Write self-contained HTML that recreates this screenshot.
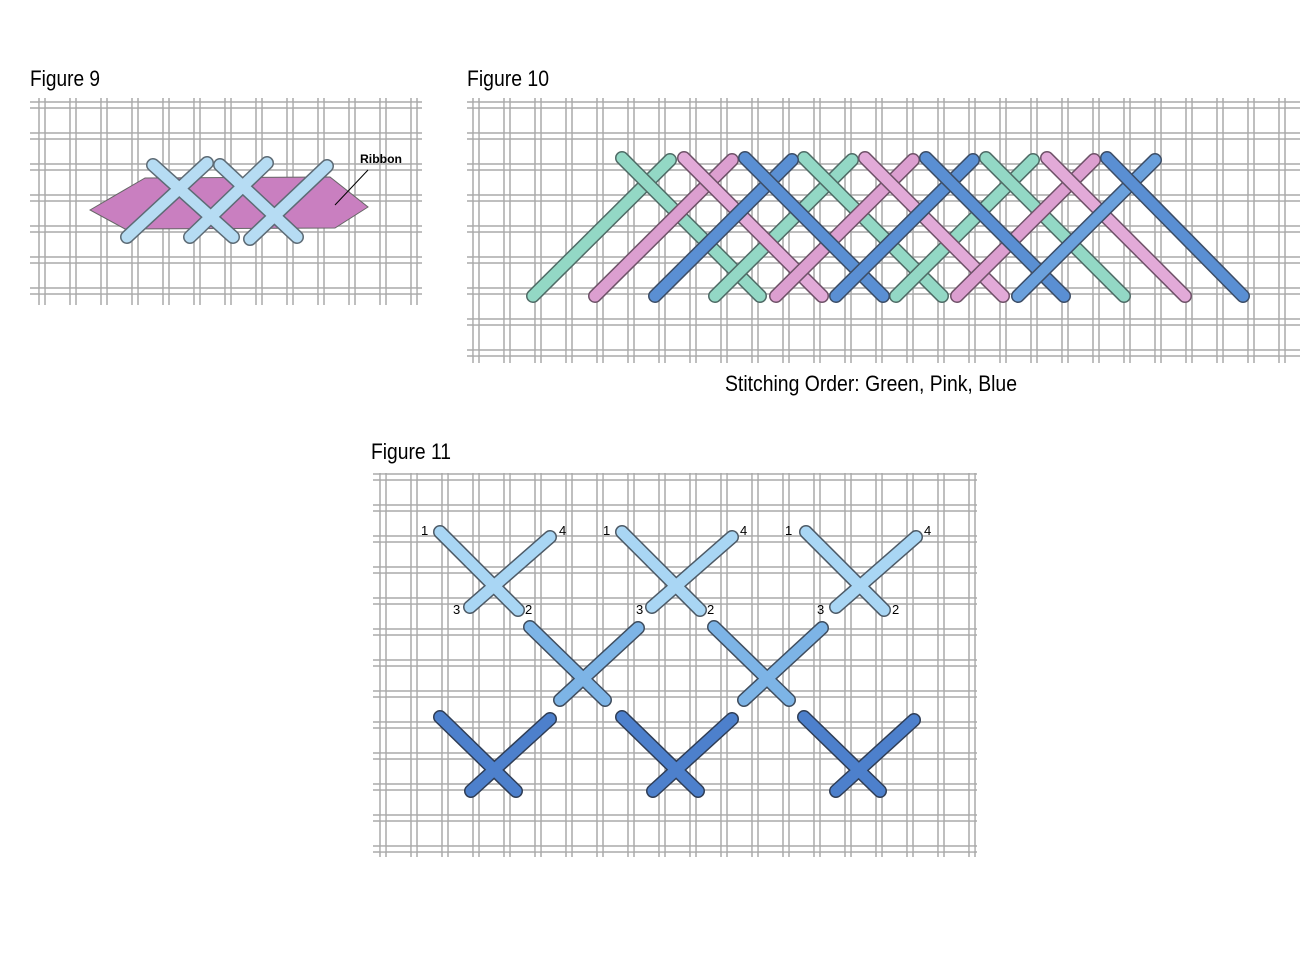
<!DOCTYPE html>
<html><head><meta charset="utf-8"><style>
body{margin:0;background:#fff;width:1300px;height:961px;overflow:hidden}
svg{display:block}
text{font-family:"Liberation Sans Narrow","Liberation Sans",sans-serif}
</style></head><body>
<svg width="1300" height="961" viewBox="0 0 1300 961">
<defs>
<pattern id="g" x="0" y="0" width="31" height="31" patternUnits="userSpaceOnUse">
<rect width="31" height="31" fill="#fff"/>
<g stroke="#aaaaaa" stroke-width="1.5">
<line x1="8" y1="0" x2="8" y2="31"/><line x1="14" y1="0" x2="14" y2="31"/>
<line x1="0" y1="9" x2="31" y2="9"/><line x1="0" y1="15" x2="31" y2="15"/>
</g>
<rect x="8.8" y="9.8" width="4.4" height="4.4" fill="#fff"/>
</pattern>
</defs>
<text x="30" y="86" font-size="22" textLength="70" lengthAdjust="spacingAndGlyphs">Figure 9</text>
<text x="467" y="86" font-size="22" textLength="82" lengthAdjust="spacingAndGlyphs">Figure 10</text>
<text x="371" y="459" font-size="22" textLength="80" lengthAdjust="spacingAndGlyphs">Figure 11</text>
<text x="725" y="391" font-size="22" textLength="292" lengthAdjust="spacingAndGlyphs">Stitching Order: Green, Pink, Blue</text>

<rect x="30" y="98" width="392" height="207" fill="url(#g)"/>
<rect x="467" y="98" width="833" height="265" fill="url(#g)"/>
<rect x="373" y="473" width="604" height="384" fill="url(#g)"/>

<!-- Fig 9 -->
<polygon points="90,210 145,178 330,177 368,207 335,228 125,229" fill="#c97fc0" stroke="#666" stroke-width="1"/>
<g stroke-linecap="round">
<g stroke="#5d6b75" stroke-width="14">
<line x1="153" y1="165" x2="233" y2="237"/><line x1="127" y1="237" x2="207" y2="163"/>
<line x1="220" y1="165" x2="297" y2="237"/><line x1="190" y1="237" x2="267" y2="163"/>
<line x1="250" y1="239" x2="327" y2="166"/>
</g>
<g stroke="#b6dcf3" stroke-width="11">
<line x1="153" y1="165" x2="233" y2="237"/><line x1="127" y1="237" x2="207" y2="163"/>
<line x1="220" y1="165" x2="297" y2="237"/><line x1="190" y1="237" x2="267" y2="163"/>
<line x1="250" y1="239" x2="327" y2="166"/>
</g>
</g>
<text x="360" y="163" font-size="12" font-weight="bold" font-family="Liberation Sans,sans-serif" textLength="42" lengthAdjust="spacingAndGlyphs">Ribbon</text>
<line x1="368" y1="170" x2="335" y2="205" stroke="#000" stroke-width="1"/>

<!-- Fig 10 -->
<g stroke-linecap="round">
<g>
<line x1="533" y1="296" x2="670" y2="160" stroke="#4f6b66" stroke-width="14"/><line x1="533" y1="296" x2="670" y2="160" stroke="#93d8c5" stroke-width="11"/>
<line x1="622" y1="158" x2="760" y2="296" stroke="#4f6b66" stroke-width="14"/><line x1="622" y1="158" x2="760" y2="296" stroke="#93d8c5" stroke-width="11"/>
<line x1="715" y1="296" x2="852" y2="160" stroke="#4f6b66" stroke-width="14"/><line x1="715" y1="296" x2="852" y2="160" stroke="#93d8c5" stroke-width="11"/>
<line x1="804" y1="158" x2="942" y2="296" stroke="#4f6b66" stroke-width="14"/><line x1="804" y1="158" x2="942" y2="296" stroke="#93d8c5" stroke-width="11"/>
<line x1="896" y1="296" x2="1033" y2="160" stroke="#4f6b66" stroke-width="14"/><line x1="896" y1="296" x2="1033" y2="160" stroke="#93d8c5" stroke-width="11"/>
<line x1="986" y1="158" x2="1124" y2="296" stroke="#4f6b66" stroke-width="14"/><line x1="986" y1="158" x2="1124" y2="296" stroke="#93d8c5" stroke-width="11"/>
</g>
<g>
<line x1="595" y1="296" x2="732" y2="160" stroke="#6e5268" stroke-width="14"/><line x1="595" y1="296" x2="732" y2="160" stroke="#dc9fd0" stroke-width="11"/>
<line x1="684" y1="158" x2="822" y2="296" stroke="#6e5268" stroke-width="14"/><line x1="684" y1="158" x2="822" y2="296" stroke="#e2aad8" stroke-width="11"/>
<line x1="776" y1="296" x2="913" y2="160" stroke="#6e5268" stroke-width="14"/><line x1="776" y1="296" x2="913" y2="160" stroke="#dc9fd0" stroke-width="11"/>
<line x1="865" y1="158" x2="1003" y2="296" stroke="#6e5268" stroke-width="14"/><line x1="865" y1="158" x2="1003" y2="296" stroke="#e2aad8" stroke-width="11"/>
<line x1="957" y1="296" x2="1094" y2="160" stroke="#6e5268" stroke-width="14"/><line x1="957" y1="296" x2="1094" y2="160" stroke="#dc9fd0" stroke-width="11"/>
<line x1="1047" y1="158" x2="1185" y2="296" stroke="#6e5268" stroke-width="14"/><line x1="1047" y1="158" x2="1185" y2="296" stroke="#e2aad8" stroke-width="11"/>
</g>
<g>
<line x1="655" y1="296" x2="792" y2="160" stroke="#3c4d66" stroke-width="14"/><line x1="655" y1="296" x2="792" y2="160" stroke="#5a8fd3" stroke-width="11"/>
<line x1="745" y1="158" x2="883" y2="296" stroke="#3c4d66" stroke-width="14"/><line x1="745" y1="158" x2="883" y2="296" stroke="#5a8fd3" stroke-width="11"/>
<line x1="836" y1="296" x2="973" y2="160" stroke="#3c4d66" stroke-width="14"/><line x1="836" y1="296" x2="973" y2="160" stroke="#5a8fd3" stroke-width="11"/>
<line x1="926" y1="158" x2="1064" y2="296" stroke="#3c4d66" stroke-width="14"/><line x1="926" y1="158" x2="1064" y2="296" stroke="#5a8fd3" stroke-width="11"/>
<line x1="1018" y1="296" x2="1155" y2="160" stroke="#3c4d66" stroke-width="14"/><line x1="1018" y1="296" x2="1155" y2="160" stroke="#6aa0dc" stroke-width="11"/>
<line x1="1107" y1="158" x2="1243" y2="296" stroke="#3c4d66" stroke-width="14"/><line x1="1107" y1="158" x2="1243" y2="296" stroke="#5a8fd3" stroke-width="11"/>
</g>
</g>

<!-- Fig 11 -->
<g stroke-linecap="round">
<g stroke="#4d5a66" stroke-width="14">
<line x1="440" y1="532" x2="518" y2="610"/><line x1="550" y1="537" x2="470" y2="607"/>
<line x1="622" y1="532" x2="700" y2="610"/><line x1="732" y1="537" x2="652" y2="607"/>
<line x1="806" y1="532" x2="884" y2="610"/><line x1="916" y1="537" x2="836" y2="607"/>
</g>
<g stroke="#a9d6f4" stroke-width="11">
<line x1="440" y1="532" x2="518" y2="610"/><line x1="550" y1="537" x2="470" y2="607"/>
<line x1="622" y1="532" x2="700" y2="610"/><line x1="732" y1="537" x2="652" y2="607"/>
<line x1="806" y1="532" x2="884" y2="610"/><line x1="916" y1="537" x2="836" y2="607"/>
</g>
<g stroke="#3f4d5e" stroke-width="14">
<line x1="530" y1="627" x2="605" y2="700"/><line x1="638" y1="628" x2="560" y2="700"/>
<line x1="714" y1="627" x2="789" y2="700"/><line x1="822" y1="628" x2="744" y2="700"/>
</g>
<g stroke="#7db4e6" stroke-width="11">
<line x1="530" y1="627" x2="605" y2="700"/><line x1="638" y1="628" x2="560" y2="700"/>
<line x1="714" y1="627" x2="789" y2="700"/><line x1="822" y1="628" x2="744" y2="700"/>
</g>
<g stroke="#2f3d55" stroke-width="14">
<line x1="440" y1="717" x2="516" y2="791"/><line x1="550" y1="719" x2="471" y2="791"/>
<line x1="622" y1="717" x2="698" y2="791"/><line x1="732" y1="719" x2="653" y2="791"/>
<line x1="804" y1="717" x2="880" y2="791"/><line x1="914" y1="720" x2="836" y2="791"/>
</g>
<g stroke="#4d80cc" stroke-width="11">
<line x1="440" y1="717" x2="516" y2="791"/><line x1="550" y1="719" x2="471" y2="791"/>
<line x1="622" y1="717" x2="698" y2="791"/><line x1="732" y1="719" x2="653" y2="791"/>
<line x1="804" y1="717" x2="880" y2="791"/><line x1="914" y1="720" x2="836" y2="791"/>
</g>
</g>
<g font-size="13" font-family="Liberation Sans,sans-serif">
<text x="421" y="535">1</text><text x="559" y="535">4</text><text x="453" y="614">3</text><text x="525" y="614">2</text>
<text x="603" y="535">1</text><text x="740" y="535">4</text><text x="636" y="614">3</text><text x="707" y="614">2</text>
<text x="785" y="535">1</text><text x="924" y="535">4</text><text x="817" y="614">3</text><text x="892" y="614">2</text>
</g>
</svg>
</body></html>
